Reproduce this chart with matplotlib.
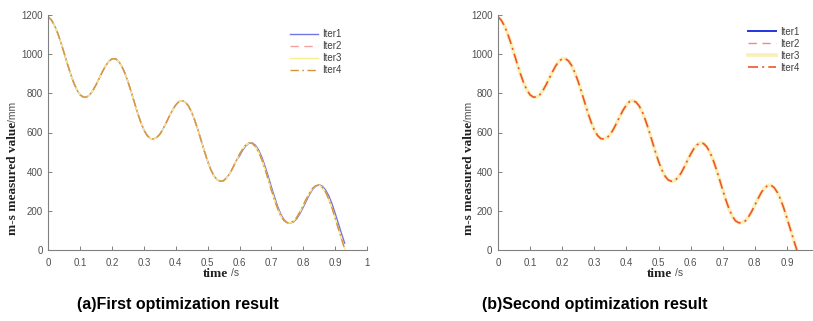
import matplotlib
matplotlib.use('Agg')
from matplotlib import pyplot as plt


W, H = 813, 321

# time axis, 0.01 s steps (0 ... 0.92)
t = [i / 100 for i in range(93)]

# measured value, shared by the overlapping iterations
base = [
    1190, 1174, 1145, 1105, 1057, 1004, 950, 899, 853, 817,
    792, 781, 781, 792, 815, 844, 878, 911, 941, 964,
    976, 977, 965, 940, 904, 859, 808, 754, 701, 653,
    613, 585, 569, 567, 574, 591, 618, 650, 684, 715,
    741, 758, 763, 755, 735, 703, 660, 611, 557, 503,
    453, 410, 378, 358, 351, 354, 369, 392, 423, 457,
    489, 517, 537, 547, 544, 528, 500, 461, 413, 361,
    306, 255, 209, 172, 149, 139, 139, 148, 168, 196,
    229, 262, 293, 316, 329, 331, 319, 295, 260, 215,
    164, 110, 57,
]
base_end_t, base_end_v = 0.931, 0

# first optimization, Iter1 lags a little towards the end
iter1_first = base[:60] + [
    480, 510, 532, 546, 547, 535, 510, 474, 428, 377,
    322, 270, 221, 181, 154, 140, 138, 144, 161, 187,
    219, 252, 285, 311, 327, 333, 326, 307, 277, 237,
    188, 136, 84,
]
iter1_end_t, iter1_end_v = 0.93, 35

labels = ['Iter1', 'Iter2', 'Iter3', 'Iter4']

styles_first = [
    dict(color='#7474e6', lw=1.0, ls='-'),
    dict(color='#f4a0a0', lw=1.0, ls=(0, (6, 4))),
    dict(color='#f6f08e', lw=1.0, ls='-'),
    dict(color='#d8923c', lw=1.0, ls=(0, (6, 2.5, 1.2, 2.5))),
]
styles_second = [
    dict(color='#2434e0', lw=1.4, ls='-'),
    dict(color='#f28a84', lw=1.0, ls=(0, (6, 4))),
    dict(color='#f9f0b8', lw=2.6, ls='-'),
    dict(color='#f0552c', lw=1.2, ls=(0, (6, 2.5, 1.2, 2.5))),
]

xticks = [i / 10 for i in range(11)]
xticklabels = ['0', '0.1', '0.2', '0.3', '0.4', '0.5', '0.6', '0.7', '0.8', '0.9', '1']
yticks = [0, 200, 400, 600, 800, 1000, 1200]

fig = plt.figure(figsize=(W / 100, H / 100), dpi=100)

ax1 = fig.add_axes([48.3 / W, 1 - 250 / H, 318.7 / W, 235 / H])
ax2 = fig.add_axes([498 / W, 1 - 250 / H, 321 / W, 235 / H])

t_full = t + [base_end_t]
v_full = base + [base_end_v]
t1_full = t + [iter1_end_t]
v1_full = iter1_first + [iter1_end_v]

for i, st in enumerate(styles_first):
    if i == 0:
        ax1.plot(t1_full, v1_full, label=labels[i], **st)
    else:
        ax1.plot(t_full, v_full, label=labels[i], **st)

for i, st in enumerate(styles_second):
    ax2.plot(t_full, v_full, label=labels[i], **st)

grey = '#808080'
for ax in (ax1, ax2):
    ax.set_xlim(0, 1)
    ax.set_ylim(0, 1200)
    ax.set_yticks(yticks)
    for s in ('top', 'right'):
        ax.spines[s].set_visible(False)
    for s in ('left', 'bottom'):
        ax.spines[s].set_color(grey)
        ax.spines[s].set_linewidth(0.8)

ax1.set_xticks(xticks)
ax1.set_xticklabels(xticklabels)
# the right panel is cut at the image edge, so its last tick is not shown
ax2.set_xticks(xticks[:-1])
ax2.set_xticklabels(xticklabels[:-1])

for ax in (ax1, ax2):
    ax.tick_params(direction='in', length=3, width=0.7, color=grey,
                   labelsize=7, labelcolor='#505050')
    ax.tick_params(axis='x', pad=6)
    ax.tick_params(axis='y', pad=4)
    for lab in ax.get_xticklabels() + ax.get_yticklabels():
        lab.set_family('Liberation Sans')

leg_kw = dict(loc='upper left', frameon=False, fontsize=7, handlelength=2.9,
              handletextpad=0.4, labelspacing=0.2, borderpad=0, borderaxespad=0)
lg1 = ax1.legend(bbox_to_anchor=(0.758, 0.94), **leg_kw)
lg2 = ax2.legend(bbox_to_anchor=(0.779, 0.95), **leg_kw)
for lg in (lg1, lg2):
    for txt in lg.get_texts():
        txt.set_color('#404040')
        txt.set_family('Liberation Sans')

fig.canvas.draw()


def px(x, y):
    return x / W, 1 - y / H


def y_label(xb, y0):
    a = fig.text(*px(xb, y0), 'm-s measured value', rotation=90,
                 rotation_mode='anchor', ha='left', va='baseline',
                 family='Liberation Serif', weight='bold', size=9.5, color='#202020')
    fig.canvas.draw()
    bb = a.get_window_extent()
    fig.text(xb / W, bb.y1 / fig.bbox.height, '/mm', rotation=90,
             rotation_mode='anchor', ha='left', va='baseline',
             family='Liberation Sans', size=7.5, color='#505050')


def x_label(x0, yb):
    a = fig.text(*px(x0, yb), 'time', ha='left', va='baseline',
                 family='Liberation Serif', weight='bold', size=9.5, color='#202020')
    fig.canvas.draw()
    bb = a.get_window_extent()
    fig.text((bb.x1 + 3) / W, 1 - (yb - 1.5) / H, '/s', ha='left', va='baseline',
             family='Liberation Sans', size=7.5, color='#505050')


y_label(16, 235)
y_label(472, 235)
x_label(203, 277)
x_label(647, 277)

cap_kw = dict(ha='center', va='center', weight='bold', size=11.5,
              family='Liberation Sans', color='black')
fig.text(*px(178, 305), '(a)First optimization result', **cap_kw)
fig.text(*px(595, 305), '(b)Second optimization result', **cap_kw)

fig.savefig('out.png', dpi=100)
